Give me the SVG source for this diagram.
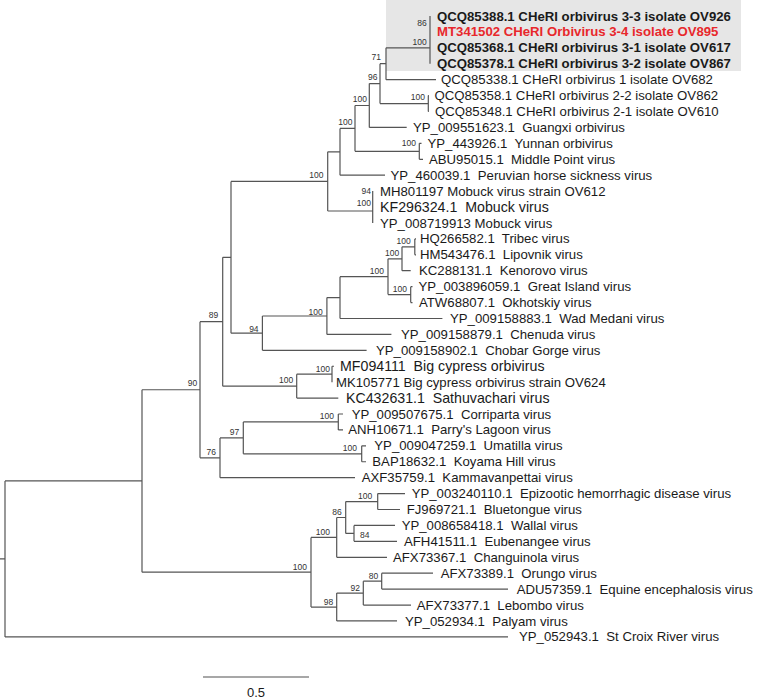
<svg xmlns="http://www.w3.org/2000/svg" width="760" height="700" viewBox="0 0 760 700">
<style>
text{font-family:"Liberation Sans",Arial,sans-serif;fill:#1a1a1a}
.lf{font-size:13.2px;white-space:pre}
.lg{font-size:14.2px;white-space:pre}
.bd{font-weight:bold}
.red{fill:#e8282c}
.bs{font-size:8.5px;text-anchor:end;fill:#333}
.br{fill:none;stroke:#555;stroke-width:1.2}
.sc{fill:none;stroke:#8a8a8a;stroke-width:1.6}
</style>
<rect x="386" y="0" width="355" height="71" fill="#e6e6e6"/>
<g id="connectors">
<path class="br" d="M0,558.9H5M5,480.97V636.88M5,480.97H142M5,636.88H508
M142,389.74V572.2M142,389.74H200M142,572.2H311
M200,321.7V457.78M200,321.7H222.7M200,457.78H220
M222.7,257.3V386.14M222.7,257.3H231M222.7,386.14H296.7
M231,181.4V333.16M231,181.4H327.7M231,333.16H262.4
M327.7,151.8V211M327.7,151.8H340M327.7,211H372.7
M340,128.4V175.2M340,128.4H355M340,175.2H385
M355,105.5V151.32M355,105.5H369.3M355,151.32H419.3
M369.3,83.6V127.44M369.3,83.6H380M369.3,127.44H406.7
M380,63.7V103.56M380,63.7H386M380,103.56H428.3
M386,47.8V79.68M386,47.8H430M386,79.68H436
M430,16V63.76
M428.3,95.6V111.52M428.3,95.6H429M428.3,111.52H429
M419.3,143.36V159.28M419.3,143.36H421.5M419.3,159.28H423
M372.7,191.12V222.96
M262.4,316V350.32M262.4,316H326.9M262.4,350.32H366.6
M326.9,297.59V334.4M326.9,297.59H340M326.9,334.4H391.4
M340,276.69V318.48M340,276.69H388M340,318.48H442.4
M388,258.78V294.6M388,258.78H402M388,294.6H410.7
M402,246.84V270.72M402,246.84H414.8M402,270.72H410.7
M414.8,238.88V254.8M414.8,238.88H416M414.8,254.8H416
M410.7,286.64V302.56M410.7,286.64H412.5M410.7,302.56H412.5
M296.7,374.2V398.08M296.7,374.2H332M296.7,398.08H338.3
M332,366.24V382.16M332,366.24H334
M220,437.88V477.68M220,437.88H243.3M220,477.68H355
M243.3,421.96V453.8M243.3,421.96H338.3M243.3,453.8H361.7
M338.3,414V429.92M338.3,414H343M338.3,429.92H343
M361.7,445.84V461.76M361.7,445.84H366M361.7,461.76H366
M311,537.38V607.03M311,537.38H336.7M311,607.03H336.7
M336.7,517.48V557.28M336.7,517.48H345.7M336.7,557.28H387
M345.7,501.56V533.4M345.7,501.56H377.7M345.7,533.4H354
M377.7,493.6V509.52M377.7,493.6H405M377.7,509.52H400
M354,525.44V541.36M354,525.44H395M354,541.36H397
M336.7,593.1V620.96M336.7,593.1H363.3M336.7,620.96H397
M363.3,581.16V605.04M363.3,581.16H381.7M363.3,605.04H411
M381.7,573.2V589.12M381.7,573.2H433M381.7,589.12H508"/>
<path class="sc" d="M203,677H309"/>
</g>
<g id="leaves">
<g id="n1"><text class="lf bd" x="437" y="20.5">QCQ85388.1 CHeRI orbivirus 3-3 isolate OV926</text></g>
<g id="n2"><text class="lf bd red" x="437" y="36.4">MT341502 CHeRI Orbivirus 3-4 isolate OV895</text></g>
<g id="n3"><text class="lf bd" x="437" y="52.3">QCQ85368.1 CHeRI orbivirus 3-1 isolate OV617</text></g>
<g id="n4"><text class="lf bd" x="437" y="68.2">QCQ85378.1 CHeRI orbivirus 3-2 isolate OV867</text></g>
<g id="n5"><text class="lf" x="441" y="84.2">QCQ85338.1 CHeRI orbivirus 1 isolate OV682</text></g>
<g id="n6"><text class="lf" x="434.5" y="100.1">QCQ85358.1 CHeRI orbivirus 2-2 isolate OV862</text></g>
<g id="n7"><text class="lf" x="435" y="116">QCQ85348.1 CHeRI orbivirus 2-1 isolate OV610</text></g>
<g id="n8"><text class="lf" x="413" y="131.9">YP_009551623.1  Guangxi orbivirus</text></g>
<g id="n9"><text class="lf" x="427.5" y="147.9">YP_443926.1  Yunnan orbivirus</text></g>
<g id="n10"><text class="lf" x="429" y="163.8">ABU95015.1  Middle Point virus</text></g>
<g id="n11"><text class="lf" x="390.5" y="179.7">YP_460039.1  Peruvian horse sickness virus</text></g>
<g id="n12"><text class="lf" x="380" y="195.6">MH801197 Mobuck virus strain OV612</text></g>
<g id="n13"><text class="lg" x="380" y="212">KF296324.1  Mobuck virus</text></g>
<g id="n14"><text class="lf" x="380" y="227.5">YP_008719913 Mobuck virus</text></g>
<g id="n15"><text class="lf" x="420" y="243.4">HQ266582.1  Tribec virus</text></g>
<g id="n16"><text class="lf" x="420" y="259.3">HM543476.1  Lipovnik virus</text></g>
<g id="n17"><text class="lf" x="419" y="275.2">KC288131.1  Kenorovo virus</text></g>
<g id="n18"><text class="lf" x="418.5" y="291.1">YP_003896059.1  Great Island virus</text></g>
<g id="n19"><text class="lf" x="419" y="307.1">ATW68807.1  Okhotskiy virus</text></g>
<g id="n20"><text class="lf" x="450" y="323">YP_009158883.1  Wad Medani virus</text></g>
<g id="n21"><text class="lf" x="401" y="338.9">YP_009158879.1  Chenuda virus</text></g>
<g id="n22"><text class="lf" x="376" y="354.8">YP_009158902.1  Chobar Gorge virus</text></g>
<g id="n23"><text class="lg" x="340" y="371.2">MF094111  Big cypress orbivirus</text></g>
<g id="n24"><text class="lf" x="336" y="386.7">MK105771 Big cypress orbivirus strain OV624</text></g>
<g id="n25"><text class="lg" x="346" y="403">KC432631.1  Sathuvachari virus</text></g>
<g id="n26"><text class="lf" x="351.7" y="418.5">YP_009507675.1  Corriparta virus</text></g>
<g id="n27"><text class="lf" x="348.3" y="434.4">ANH10671.1  Parry's Lagoon virus</text></g>
<g id="n28"><text class="lf" x="374.3" y="450.3">YP_009047259.1  Umatilla virus</text></g>
<g id="n29"><text class="lf" x="372.3" y="466.3">BAP18632.1  Koyama Hill virus</text></g>
<g id="n30"><text class="lf" x="361.7" y="482.2">AXF35759.1  Kammavanpettai virus</text></g>
<g id="n31"><text class="lf" x="411.7" y="498.1">YP_003240110.1  Epizootic hemorrhagic disease virus</text></g>
<g id="n32"><text class="lf" x="406.7" y="514">FJ969721.1  Bluetongue virus</text></g>
<g id="n33"><text class="lf" x="401.7" y="529.9">YP_008658418.1  Wallal virus</text></g>
<g id="n34"><text class="lf" x="404" y="545.9">AFH41511.1  Eubenangee virus</text></g>
<g id="n35"><text class="lf" x="393" y="561.8">AFX73367.1  Changuinola virus</text></g>
<g id="n36"><text class="lf" x="440.7" y="577.7">AFX73389.1  Orungo virus</text></g>
<g id="n37"><text class="lf" x="516.7" y="593.6">ADU57359.1  Equine encephalosis virus</text></g>
<g id="n38"><text class="lf" x="416.7" y="609.5">AFX73377.1  Lebombo virus</text></g>
<g id="n39"><text class="lf" x="405" y="625.5">YP_052934.1  Palyam virus</text></g>
<g id="n40"><text class="lf" x="519" y="641.4">YP_052943.1  St Croix River virus</text></g>
</g>
<g id="support">
<text class="bs" x="426.7" y="25.5">86</text>
<text class="bs" x="426.7" y="44.5">100</text>
<text class="bs" x="381" y="60">71</text>
<text class="bs" x="377.5" y="80">96</text>
<text class="bs" x="425" y="99.5">100</text>
<text class="bs" x="367" y="101.5">100</text>
<text class="bs" x="352.5" y="124.5">100</text>
<text class="bs" x="416" y="146">100</text>
<text class="bs" x="323.5" y="177.5">100</text>
<text class="bs" x="371" y="194">94</text>
<text class="bs" x="371" y="206">100</text>
<text class="bs" x="410.7" y="243.5">100</text>
<text class="bs" x="399.3" y="255.5">100</text>
<text class="bs" x="384" y="274">100</text>
<text class="bs" x="407" y="292">100</text>
<text class="bs" x="322.8" y="314.5">100</text>
<text class="bs" x="258.6" y="332">94</text>
<text class="bs" x="218.3" y="318">89</text>
<text class="bs" x="330" y="372">100</text>
<text class="bs" x="293.3" y="383">100</text>
<text class="bs" x="197.3" y="386">90</text>
<text class="bs" x="334" y="419">100</text>
<text class="bs" x="239.3" y="435.3">97</text>
<text class="bs" x="357" y="450.5">100</text>
<text class="bs" x="216" y="454.5">76</text>
<text class="bs" x="372.3" y="499">100</text>
<text class="bs" x="341.7" y="514.5">86</text>
<text class="bs" x="369.5" y="537.5">84</text>
<text class="bs" x="330" y="534.5">100</text>
<text class="bs" x="307" y="570">100</text>
<text class="bs" x="378.3" y="578.5">80</text>
<text class="bs" x="360" y="590.5">92</text>
<text class="bs" x="333.3" y="604.5">98</text>
</g>
<text x="256" y="697" font-size="13" text-anchor="middle">0.5</text>
</svg>
